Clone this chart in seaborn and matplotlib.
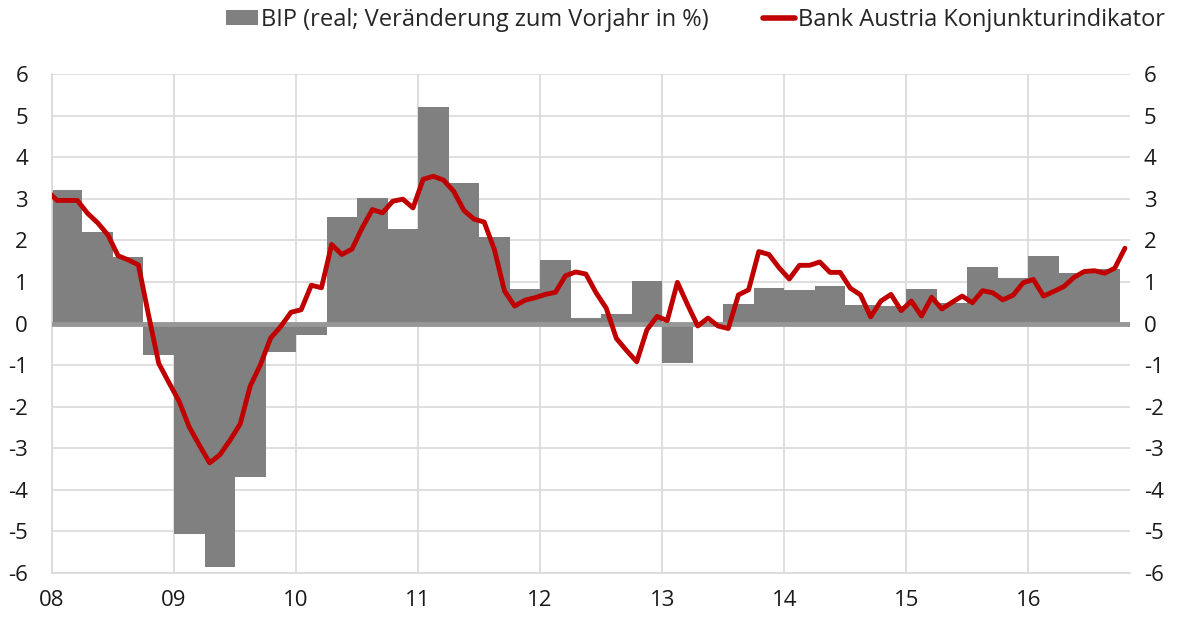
"""Bank Austria Konjunkturindikator vs. BIP (real, Veränderung zum Vorjahr)."""

import matplotlib.pyplot as plt
import numpy as np
import pandas as pd
import seaborn as sns
from matplotlib.lines import Line2D
from matplotlib.patches import Patch
from matplotlib.transforms import ScaledTranslation

# quarterly GDP, 2008Q1 .. 2016Q3
quarters = pd.period_range("2008Q1", "2016Q3", freq="Q")
bip = [
    3.2, 2.2, 1.6, -0.75,
    -5.05, -5.85, -3.7, -0.69,
    -0.27, 2.57, 3.03, 2.27,
    5.2, 3.38, 2.07, 0.83,
    1.53, 0.14, 0.22, 1.03,
    -0.95, 0.03, 0.47, 0.86,
    0.80, 0.91, 0.45, 0.42,
    0.82, 0.50, 1.36, 1.10,
    1.62, 1.22, 1.30,
]

# monthly indicator, Dec 2007 .. Oct 2016
months = pd.period_range("2007-12", "2016-10", freq="M")
indikator = [
    3.2,
    2.96, 2.96, 2.96, 2.65, 2.42, 2.13, 1.63, 1.53, 1.41, 0.2, -0.96, -1.42,
    -1.87, -2.49, -2.93, -3.35, -3.16, -2.81, -2.42, -1.50, -0.99, -0.35, -0.07, 0.27,
    0.33, 0.92, 0.86, 1.90, 1.66, 1.79, 2.30, 2.74, 2.66, 2.94, 2.99, 2.78,
    3.47, 3.54, 3.45, 3.18, 2.72, 2.51, 2.44, 1.78, 0.78, 0.42, 0.56, 0.62,
    0.70, 0.75, 1.15, 1.24, 1.19, 0.74, 0.37, -0.36, -0.65, -0.92, -0.15, 0.17,
    0.07, 0.99, 0.45, -0.06, 0.13, -0.06, -0.12, 0.69, 0.81, 1.73, 1.66, 1.34,
    1.07, 1.40, 1.40, 1.48, 1.23, 1.23, 0.85, 0.69, 0.16, 0.54, 0.70, 0.31,
    0.54, 0.18, 0.63, 0.35, 0.51, 0.66, 0.50, 0.79, 0.74, 0.57, 0.68, 0.98,
    1.06, 0.66, 0.77, 0.89, 1.11, 1.25, 1.27, 1.21, 1.33, 1.81,
]

years = list(range(2008, 2017))
year_labels = [f"{y % 100:02d}" for y in years]
y_ticks = list(range(-6, 7))

BAR_COLOR = "#808080"
LINE_COLOR = "#C00000"
GRID_COLOR = "#d9d9d9"
FONT = ["Open Sans", "DejaVu Sans"]

# decimal-year positions (mid-quarter / mid-month)
bar_df = pd.DataFrame(
    {"t": [q.year + (q.quarter - 0.5) / 4 for q in quarters], "bip": bip}
)
line_df = pd.DataFrame(
    {"t": [m.year + (m.month - 0.5) / 12 for m in months], "ind": indikator}
)

sns.set_theme(style="white")
plt.rcParams["font.family"] = FONT
plt.rcParams["axes.unicode_minus"] = False

fig = plt.figure(figsize=(11.81, 6.2), dpi=100)
ax = fig.add_axes([0.044, 0.0758, 0.9128, 0.8048])

sns.barplot(
    data=bar_df, x="t", y="bip", native_scale=True, width=1.0,
    color=BAR_COLOR, saturation=1, errorbar=None, orient="x", ax=ax,
    linewidth=0, zorder=2,
)
ax.axhline(0, color="#979797", lw=3.5, zorder=3)
sns.lineplot(data=line_df, x="t", y="ind", color=LINE_COLOR, lw=3.5, ax=ax, zorder=4)

ax.set_xlim(2008, 2016 + 10 / 12)
ax.set_ylim(-6, 6)
ax.set_xticks(years)
ax.set_xticklabels(year_labels)
ax.set_yticks(y_ticks)
ax.set_xlabel("")
ax.set_ylabel("")

ax.grid(True, color=GRID_COLOR, lw=1.2, zorder=0)
ax.set_axisbelow(True)
for side in ["top", "right"]:
    ax.spines[side].set_visible(False)
for side in ["left", "bottom"]:
    ax.spines[side].set_color(GRID_COLOR)
    ax.spines[side].set_linewidth(1.2)

ax.tick_params(axis="both", length=0, labelsize=16, colors="#1a1a1a")
ax.tick_params(axis="y", labelright=True, pad=10)
ax.tick_params(axis="x", pad=12)

# left-hand labels sit a little further from the axis than the right ones
shift = ScaledTranslation(-10 / 100, 0, fig.dpi_scale_trans)
for tick in ax.yaxis.get_major_ticks():
    tick.label1.set_transform(tick.label1.get_transform() + shift)

handles = [
    Patch(facecolor=BAR_COLOR, edgecolor="none"),
    Line2D([0], [0], color=LINE_COLOR, lw=4),
]
fig.legend(
    handles,
    ["BIP (real; Veränderung zum Vorjahr in %)", "Bank Austria Konjunkturindikator"],
    loc="center", bbox_to_anchor=(0.589, 0.968), ncol=2, frameon=False,
    fontsize=17, handlelength=1.35, handletextpad=0.12, columnspacing=2.3,
    handleheight=0.55,
)

fig.savefig("out.png", dpi=100)
